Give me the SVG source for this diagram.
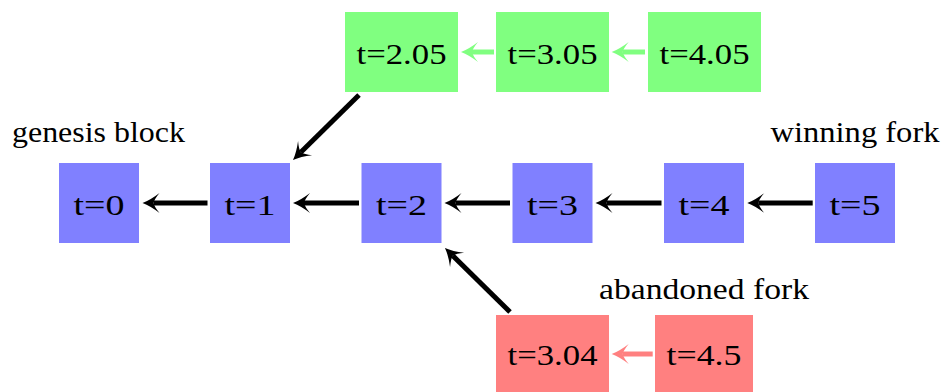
<svg xmlns="http://www.w3.org/2000/svg" width="943" height="392" viewBox="0 0 943 392">
<style>
text{font-family:"Liberation Serif","Times New Roman",serif;font-size:29px;fill:#000;text-anchor:middle}
.blue{fill:#8080ff}.green{fill:#80ff80}.red{fill:#ff8080}
.k{stroke:#000;stroke-width:5;fill:none;marker-end:url(#hk)}
.g{stroke:#80ff80;stroke-width:5;fill:none;marker-end:url(#hg)}
.r{stroke:#ff8080;stroke-width:5;fill:none;marker-end:url(#hr)}
</style>
<defs>
<marker id="hk" markerUnits="userSpaceOnUse" orient="auto" refX="0" refY="0" markerWidth="30" markerHeight="30" viewBox="-10 -15 30 30" overflow="visible"><path d="M11,0 Q3,-3 -6,-10 Q-1,-4 0,0 Q-1,4 -6,10 Q3,3 11,0 Z" fill="#000"/></marker>
<marker id="hg" markerUnits="userSpaceOnUse" orient="auto" refX="0" refY="0" markerWidth="30" markerHeight="30" viewBox="-10 -15 30 30" overflow="visible"><path d="M11,0 Q3,-3 -6,-10 Q-1,-4 0,0 Q-1,4 -6,10 Q3,3 11,0 Z" fill="#80ff80"/></marker>
<marker id="hr" markerUnits="userSpaceOnUse" orient="auto" refX="0" refY="0" markerWidth="30" markerHeight="30" viewBox="-10 -15 30 30" overflow="visible"><path d="M11,0 Q3,-3 -6,-10 Q-1,-4 0,0 Q-1,4 -6,10 Q3,3 11,0 Z" fill="#ff8080"/></marker>
</defs>
<g id="labels">
<text x="98.5" y="142" textLength="173" lengthAdjust="spacingAndGlyphs">genesis block</text>
<text x="855" y="142" textLength="169" lengthAdjust="spacingAndGlyphs">winning fork</text>
<text x="704" y="299" textLength="210" lengthAdjust="spacingAndGlyphs">abandoned fork</text>
</g>
<g id="b0"><rect class="blue" x="59" y="163" width="80" height="80"/><text x="99" y="215" textLength="51" lengthAdjust="spacingAndGlyphs">t=0</text></g>
<g id="b1"><rect class="blue" x="210" y="163" width="80" height="80"/><text x="250" y="215" textLength="51" lengthAdjust="spacingAndGlyphs">t=1</text></g>
<g id="b2"><rect class="blue" x="361.5" y="163" width="80" height="80"/><text x="401.5" y="215" textLength="51" lengthAdjust="spacingAndGlyphs">t=2</text></g>
<g id="b3"><rect class="blue" x="512.5" y="163" width="80" height="80"/><text x="552.5" y="215" textLength="51" lengthAdjust="spacingAndGlyphs">t=3</text></g>
<g id="b4"><rect class="blue" x="664" y="163" width="80" height="80"/><text x="704" y="215" textLength="51" lengthAdjust="spacingAndGlyphs">t=4</text></g>
<g id="b5"><rect class="blue" x="815" y="163" width="80" height="80"/><text x="855" y="215" textLength="51" lengthAdjust="spacingAndGlyphs">t=5</text></g>
<g id="g205"><rect class="green" x="345" y="12" width="113" height="80"/><text x="401.5" y="64" textLength="90" lengthAdjust="spacingAndGlyphs">t=2.05</text></g>
<g id="g305"><rect class="green" x="496" y="12" width="113" height="80"/><text x="552.5" y="64" textLength="90" lengthAdjust="spacingAndGlyphs">t=3.05</text></g>
<g id="g405"><rect class="green" x="648" y="12" width="113" height="80"/><text x="704.5" y="64" textLength="90" lengthAdjust="spacingAndGlyphs">t=4.05</text></g>
<g id="r304"><rect class="red" x="496" y="315" width="113" height="77"/><text x="552.5" y="365" textLength="90" lengthAdjust="spacingAndGlyphs">t=3.04</text></g>
<g id="r45"><rect class="red" x="655" y="315" width="98" height="77"/><text x="704" y="365" textLength="75" lengthAdjust="spacingAndGlyphs">t=4.5</text></g>
<g id="connectors">
<path class="k" d="M207.5,203 L153.5,203"/>
<path class="k" d="M359,203 L304,203"/>
<path class="k" d="M510,203 L455.5,203"/>
<path class="k" d="M661.5,203 L606.5,203"/>
<path class="k" d="M812.7,203 L758.3,203"/>
<path class="g" d="M494,52 L472,52"/>
<path class="g" d="M645,52 L622.7,52"/>
<path class="r" d="M652.7,354 L622.7,354"/>
<path class="k" d="M359,95 L300.8,152.3"/>
<path class="k" d="M510,312 L452.8,255.7"/>
</g>
</svg>
